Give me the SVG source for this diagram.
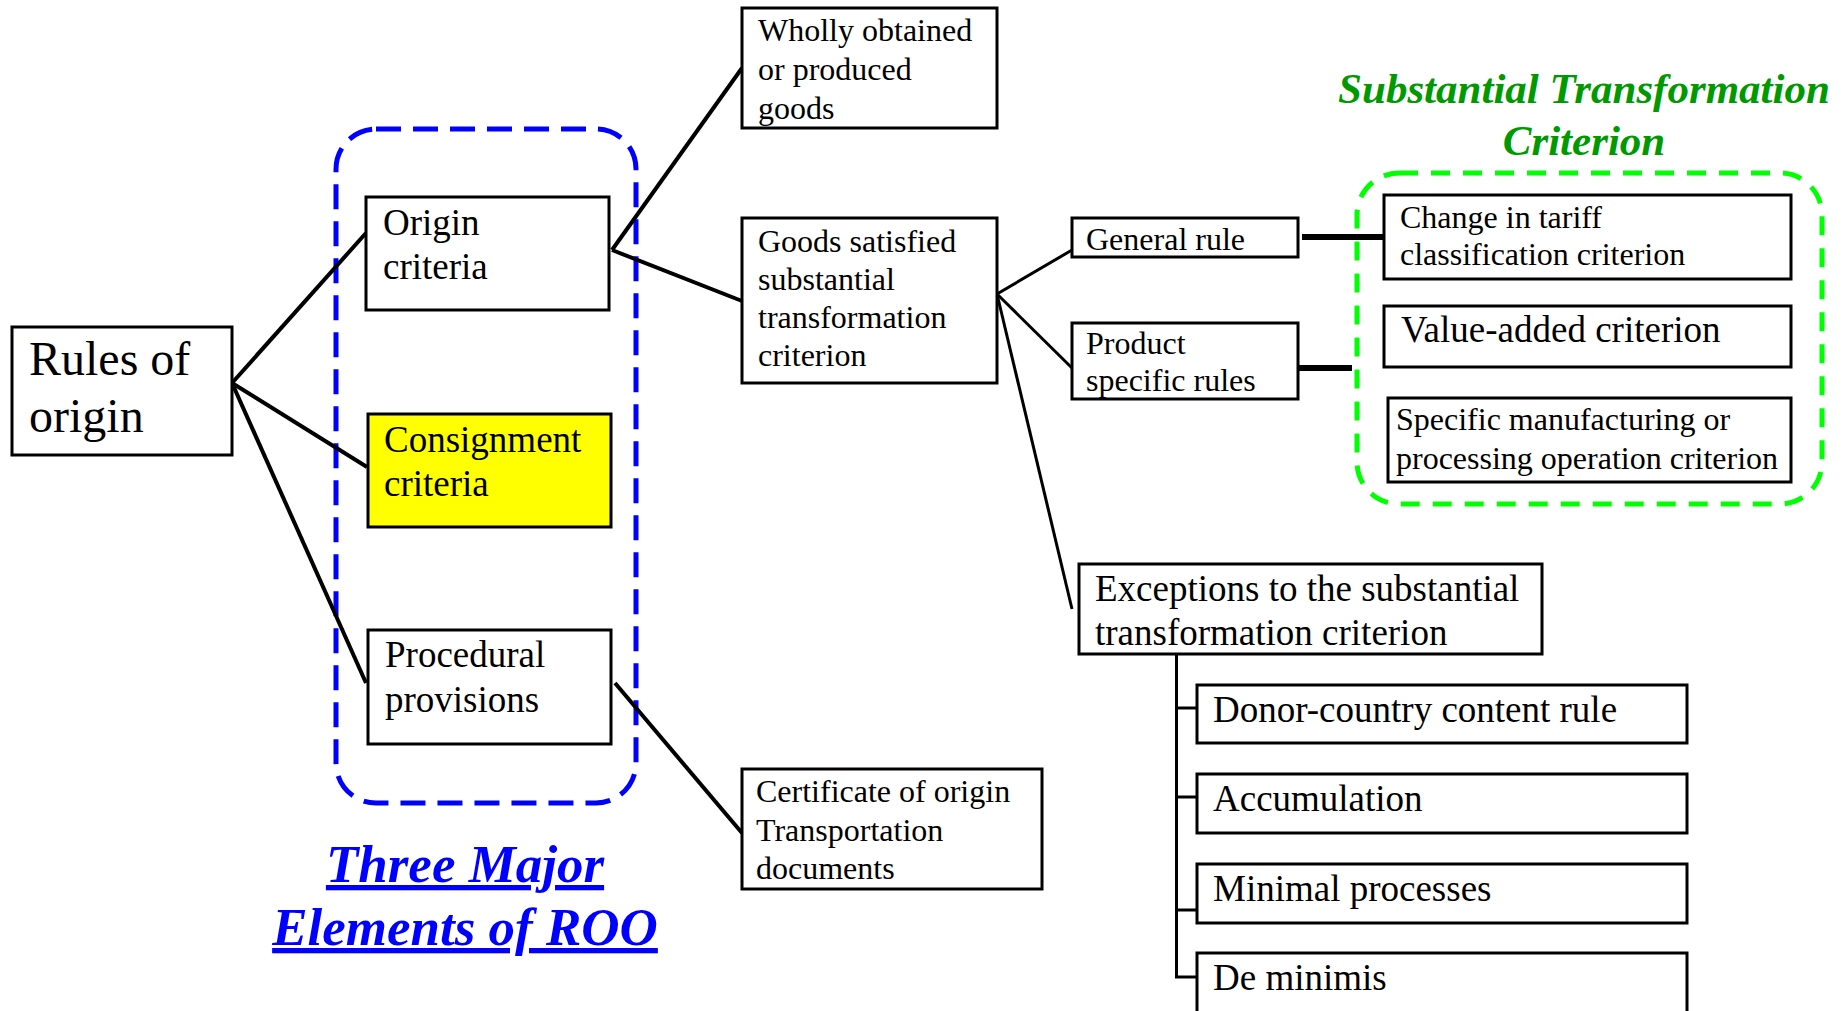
<svg xmlns="http://www.w3.org/2000/svg" width="1843" height="1011" viewBox="0 0 1843 1011">
<style>
.box{fill:#fff;stroke:#000;stroke-width:3}
.t{font-family:"Liberation Serif","Times New Roman",serif;fill:#000}
.s32{font-size:32px}
.s37{font-size:37px}
.s48{font-size:48px}
.c4{stroke:#000;stroke-width:4;fill:none}
.c3{stroke:#000;stroke-width:3;fill:none}
.c6{stroke:#000;stroke-width:6;fill:none}
.title{font-family:"Liberation Serif","Times New Roman",serif;font-weight:bold;font-style:italic;text-anchor:middle}
</style>
<rect width="1843" height="1011" fill="#fff"/>
<g id="groups">
<rect id="blue-group" x="336" y="129" width="300" height="674" rx="40" ry="40" fill="none" stroke="#0000ff" stroke-width="5" stroke-dasharray="25 12"/>
<rect id="green-group" x="1357" y="173" width="465" height="331" rx="42" ry="42" fill="none" stroke="#00ff00" stroke-width="5" stroke-dasharray="19 13"/>
</g>
<g id="connectors">
<line class="c4" x1="232" y1="383" x2="366" y2="233"/>
<line class="c4" x1="232" y1="383" x2="367" y2="467"/>
<line class="c4" x1="232" y1="383" x2="366" y2="683"/>
<line class="c4" x1="612" y1="250" x2="742" y2="68"/>
<line class="c4" x1="612" y1="250" x2="742" y2="301"/>
<line class="c4" x1="615" y1="683" x2="742" y2="833"/>
<line class="c3" x1="997" y1="294" x2="1072" y2="250"/>
<line class="c3" x1="997" y1="294" x2="1072" y2="368"/>
<line class="c3" x1="997" y1="294" x2="1072" y2="609"/>
<line class="c6" x1="1302" y1="237" x2="1384" y2="237"/>
<line class="c6" x1="1298" y1="368" x2="1352" y2="368"/>
<polyline class="c3" points="1176.5,654 1176.5,977 1197,977"/>
<line class="c3" x1="1176.5" y1="708" x2="1197" y2="708"/>
<line class="c3" x1="1176.5" y1="797" x2="1197" y2="797"/>
<line class="c3" x1="1176.5" y1="910" x2="1197" y2="910"/>
</g>
<g id="rules-of-origin">
<rect class="box" x="12" y="327" width="220" height="128"/>
<text class="t s48" x="29" y="375">Rules of</text>
<text class="t s48" x="29" y="432">origin</text>
</g>
<g id="origin-criteria">
<rect class="box" x="366" y="197" width="243" height="113"/>
<text class="t s37" x="383" y="235">Origin</text>
<text class="t s37" x="383" y="279">criteria</text>
</g>
<g id="consignment-criteria">
<rect class="box" x="368" y="414" width="243" height="113" style="fill:#ffff00"/>
<text class="t s37" x="384" y="452">Consignment</text>
<text class="t s37" x="384" y="496">criteria</text>
</g>
<g id="procedural-provisions">
<rect class="box" x="368" y="630" width="243" height="114"/>
<text class="t s37" x="385" y="667">Procedural</text>
<text class="t s37" x="385" y="712">provisions</text>
</g>
<g id="wholly-obtained">
<rect class="box" x="742" y="8" width="255" height="120"/>
<text class="t s32" x="758" y="41">Wholly obtained</text>
<text class="t s32" x="758" y="80">or produced</text>
<text class="t s32" x="758" y="119">goods</text>
</g>
<g id="goods-satisfied">
<rect class="box" x="742" y="218" width="255" height="165"/>
<text class="t s32" x="758" y="252">Goods satisfied</text>
<text class="t s32" x="758" y="290">substantial</text>
<text class="t s32" x="758" y="328">transformation</text>
<text class="t s32" x="758" y="366">criterion</text>
</g>
<g id="certificate">
<rect class="box" x="742" y="769" width="300" height="120"/>
<text class="t s32" x="756" y="802">Certificate of origin</text>
<text class="t s32" x="756" y="841">Transportation</text>
<text class="t s32" x="756" y="879">documents</text>
</g>
<g id="general-rule">
<rect class="box" x="1072" y="218" width="226" height="39"/>
<text class="t s32" x="1086" y="250">General rule</text>
</g>
<g id="product-specific-rules">
<rect class="box" x="1072" y="323" width="226" height="76"/>
<text class="t s32" x="1086" y="354">Product</text>
<text class="t s32" x="1086" y="391">specific rules</text>
</g>
<g id="change-in-tariff">
<rect class="box" x="1384" y="195" width="407" height="84"/>
<text class="t s32" x="1400" y="228">Change in tariff</text>
<text class="t s32" x="1400" y="265">classification criterion</text>
</g>
<g id="value-added">
<rect class="box" x="1384" y="306" width="407" height="61"/>
<text class="t s37" x="1401" y="342">Value-added criterion</text>
</g>
<g id="specific-manufacturing">
<rect class="box" x="1388" y="398" width="403" height="84"/>
<text class="t s32" x="1396" y="430">Specific manufacturing or</text>
<text class="t s32" x="1396" y="469">processing operation criterion</text>
</g>
<g id="exceptions">
<rect class="box" x="1079" y="564" width="463" height="90"/>
<text class="t s37" x="1095" y="601">Exceptions to the substantial</text>
<text class="t s37" x="1095" y="645">transformation criterion</text>
</g>
<g id="donor-country">
<rect class="box" x="1197" y="685" width="490" height="58"/>
<text class="t s37" x="1213" y="722">Donor-country content rule</text>
</g>
<g id="accumulation">
<rect class="box" x="1197" y="774" width="490" height="59"/>
<text class="t s37" x="1213" y="811">Accumulation</text>
</g>
<g id="minimal-processes">
<rect class="box" x="1197" y="864" width="490" height="59"/>
<text class="t s37" x="1213" y="901">Minimal processes</text>
</g>
<g id="de-minimis">
<rect class="box" x="1197" y="953" width="490" height="70"/>
<text class="t s37" x="1213" y="990">De minimis</text>
</g>
<g id="title-roo">
<text class="title" x="465" y="882" font-size="53" fill="#0000ff" text-decoration="underline">Three Major</text>
<text class="title" x="465" y="945" font-size="53" fill="#0000ff" text-decoration="underline">Elements of ROO</text>
</g>
<g id="title-stc">
<text class="title" x="1584" y="103" font-size="43" fill="#009900">Substantial Transformation</text>
<text class="title" x="1584" y="155" font-size="43" fill="#009900">Criterion</text>
</g>
</svg>
